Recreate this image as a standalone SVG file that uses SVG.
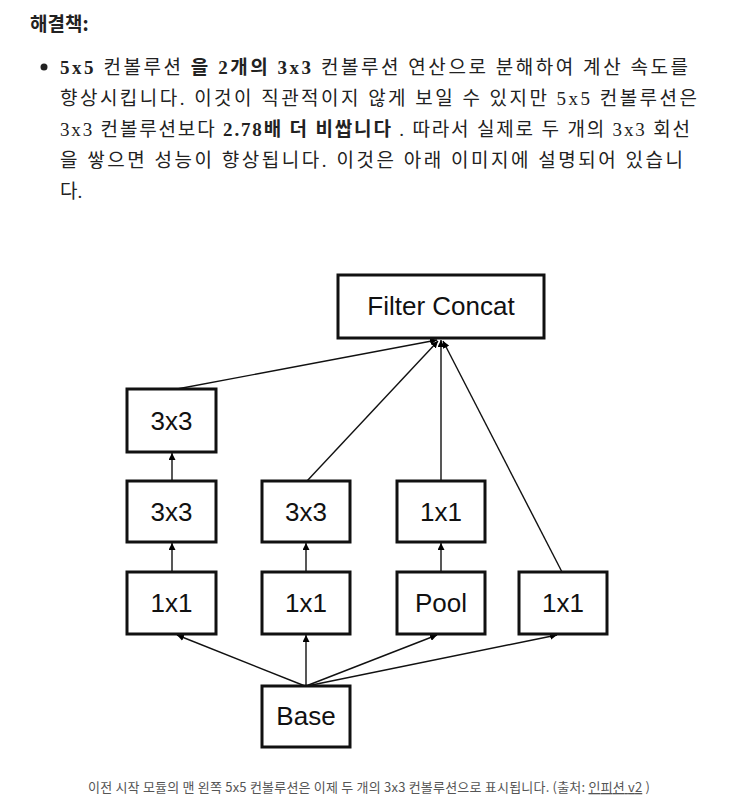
<svg xmlns="http://www.w3.org/2000/svg" width="752" height="800" viewBox="0 0 752 800">
<defs>
<marker id="ah" viewBox="0 0 10 10" refX="10" refY="5" markerWidth="7" markerHeight="7" markerUnits="userSpaceOnUse" orient="auto">
<path d="M0,0 L10,5 L0,10 z" fill="#000"/>
</marker>
</defs>
<style>
.kr{font-family:"Liberation Serif","Noto Sans CJK KR",serif;font-size:19px;fill:#222}
.b{font-weight:bold}
.box{fill:#fff;stroke:#111;stroke-width:3}
.lbl{font-family:"Liberation Sans",Arial,sans-serif;font-size:26px;fill:#111;text-anchor:middle}
.ln{stroke:#111;stroke-width:1.4;fill:none;marker-end:url(#ah)}
.cap{font-family:"Noto Sans CJK KR","Liberation Sans",sans-serif;font-size:13px;fill:#555}
</style>
<rect width="752" height="800" fill="#fff"/>
<text x="30" y="31" font-family="Noto Sans CJK KR, sans-serif" font-size="19" font-weight="bold" fill="#222">해결책:</text>
<circle cx="44" cy="67" r="3.5" fill="#222"/>
<text class="kr" x="60" y="74" textLength="628" lengthAdjust="spacing"><tspan class="b">5x5</tspan> 컨볼루션 <tspan class="b">을 2개의 3x3</tspan> 컨볼루션 연산으로 분해하여 계산 속도를</text>
<text class="kr" x="60" y="105" textLength="637" lengthAdjust="spacing">향상시킵니다. 이것이 직관적이지 않게 보일 수 있지만 5x5 컨볼루션은</text>
<text class="kr" x="60" y="136" textLength="630" lengthAdjust="spacing">3x3 컨볼루션보다 <tspan class="b">2.78배 더 비쌉니다</tspan> . 따라서 실제로 두 개의 3x3 회선</text>
<text class="kr" x="60" y="167" textLength="623" lengthAdjust="spacing">을 쌓으면 성능이 향상됩니다. 이것은 아래 이미지에 설명되어 있습니</text>
<text class="kr" x="60" y="198">다.</text>

<g id="connectors">
<line class="ln" x1="177" y1="389" x2="437" y2="340"/>
<line class="ln" x1="307" y1="481" x2="438" y2="341"/>
<line class="ln" x1="441" y1="481" x2="441" y2="340"/>
<line class="ln" x1="562" y1="572" x2="443" y2="341"/>
<line class="ln" x1="172" y1="481" x2="172" y2="453"/>
<line class="ln" x1="172" y1="572" x2="172" y2="543"/>
<line class="ln" x1="306" y1="572" x2="306" y2="543"/>
<line class="ln" x1="441" y1="572" x2="441" y2="543"/>
<line class="ln" x1="305" y1="686" x2="177" y2="635"/>
<line class="ln" x1="306" y1="686" x2="306" y2="635"/>
<line class="ln" x1="306" y1="686" x2="437" y2="635"/>
<line class="ln" x1="307" y1="686" x2="557" y2="635"/>
</g>

<g id="concat"><rect class="box" x="338" y="275" width="206" height="63"/><text class="lbl" x="441" y="315">Filter Concat</text></g>
<g id="c1r1"><rect class="box" x="127" y="389" width="89" height="63"/><text class="lbl" x="171.5" y="430">3x3</text></g>
<g id="c1r2"><rect class="box" x="127" y="481" width="89" height="61"/><text class="lbl" x="171.5" y="521">3x3</text></g>
<g id="c2r2"><rect class="box" x="262" y="481" width="88" height="61"/><text class="lbl" x="306" y="521">3x3</text></g>
<g id="c3r2"><rect class="box" x="397" y="481" width="88" height="61"/><text class="lbl" x="441" y="521">1x1</text></g>
<g id="c1r3"><rect class="box" x="127" y="572" width="89" height="62"/><text class="lbl" x="171.5" y="612">1x1</text></g>
<g id="c2r3"><rect class="box" x="262" y="572" width="88" height="62"/><text class="lbl" x="306" y="612">1x1</text></g>
<g id="pool"><rect class="box" x="397" y="572" width="88" height="62"/><text class="lbl" x="441" y="612">Pool</text></g>
<g id="c4r3"><rect class="box" x="519" y="572" width="88" height="62"/><text class="lbl" x="563" y="612">1x1</text></g>
<g id="base"><rect class="box" x="262" y="686" width="88" height="61"/><text class="lbl" x="306" y="725">Base</text></g>

<text class="cap" x="88" y="792" textLength="562" lengthAdjust="spacing">이전 시작 모듈의 맨 왼쪽 5x5 컨볼루션은 이제 두 개의 3x3 컨볼루션으로 표시됩니다. (출처: <tspan text-decoration="underline">인피션 v2</tspan> )</text>
</svg>
